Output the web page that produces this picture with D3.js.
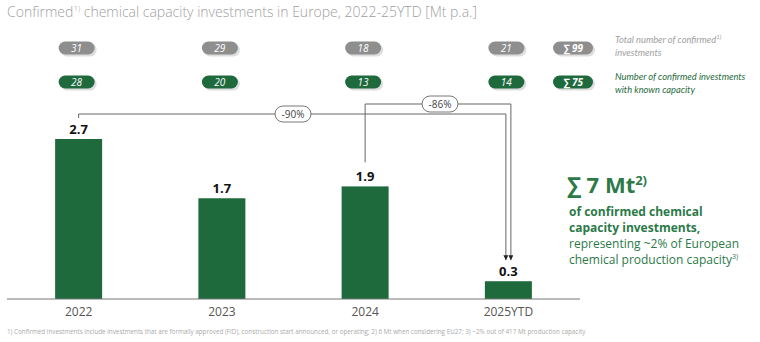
<!DOCTYPE html>
<html>
<head>
<meta charset="utf-8">
<script src="https://cdn.jsdelivr.net/npm/d3@7"></script>
<style>
  body { margin: 0; background: #fff; }
  svg { display: block; font-family: "Open Sans", sans-serif; }
</style>
</head>
<body>
<svg id="chart" width="760" height="342"></svg>
<script>
// data
const categories = ['2022', '2023', '2024', '2025YTD'];
const capacity = [2.7, 1.7, 1.9, 0.3];
const totalInvestments = [31, 29, 18, 21];
const knownCapacity = [28, 20, 13, 14];
const totalSum = 99;
const knownSum = 75;
const changes = [
  { from: '2022', to: '2025YTD', label: '-90%' },
  { from: '2024', to: '2025YTD', label: '-86%' }
];

const green = '#1f6a3d';
const grey = '#8e8e8e';

const svg = d3.select('#chart');
const baseY = 299;

const x = d3.scaleBand().domain(categories).range([7, 580]).padding(0);
const y = d3.scaleLinear().domain([0, 2.7]).range([baseY, 139]);
const barW = 47;
const cx = c => x(c) + x.bandwidth() / 2;

// title
const title = svg.append('text')
  .attr('x', 7).attr('y', 17)
  .attr('fill', '#a0a0a0')
  .attr('font-size', 14).attr('font-weight', 300);
title.append('tspan').text('Confirmed');
title.append('tspan').attr('font-size', 8).attr('dy', -6).text('1)');
title.append('tspan').attr('dy', 6).text(' chemical capacity investments in Europe, 2022-25YTD [Mt p.a.]');

// pill rows
function pill(g, px, py, w, fill, label, bold) {
  g.append('rect')
    .attr('x', px - w / 2 + 2).attr('y', py - 6.5 + 2)
    .attr('width', w).attr('height', 13).attr('rx', 6.5)
    .attr('fill', '#cfcfcf').attr('opacity', 0.7);
  g.append('rect')
    .attr('x', px - w / 2).attr('y', py - 6.5)
    .attr('width', w).attr('height', 13).attr('rx', 6.5)
    .attr('fill', fill);
  g.append('text')
    .attr('x', px).attr('y', py + 3.5)
    .attr('text-anchor', 'middle')
    .attr('fill', '#fff').attr('font-size', 10)
    .attr('font-style', 'italic')
    .attr('font-weight', bold ? 700 : 400)
    .text(label);
}

const pills = svg.append('g');
categories.forEach((c, i) => {
  pill(pills, cx(c) - 2, 48, 36, grey, totalInvestments[i], false);
  pill(pills, cx(c) - 2, 82, 36, green, knownCapacity[i], false);
});
pill(pills, 573, 48, 40, grey, '\u2211 ' + totalSum, true);
pill(pills, 573, 82, 40, green, '\u2211 ' + knownSum, true);

// legend texts
const lg = svg.append('g').attr('font-size', 9.3).attr('font-style', 'italic')
  .attr('font-family', 'Lato, sans-serif');
const l1 = lg.append('text').attr('x', 615).attr('y', 43).attr('fill', '#a0a0a0');
l1.append('tspan').text('Total number of confirmed');
l1.append('tspan').attr('font-size', 6).attr('dy', -4).text('1)');
lg.append('text').attr('x', 615).attr('y', 56).attr('fill', '#a0a0a0').text('investments');
lg.append('text').attr('x', 615).attr('y', 80).attr('fill', green).text('Number of confirmed investments');
lg.append('text').attr('x', 615).attr('y', 93).attr('fill', green).text('with known capacity');

// bars
svg.append('g').selectAll('rect')
  .data(categories)
  .join('rect')
  .attr('x', c => cx(c) - barW / 2)
  .attr('y', (c, i) => y(capacity[i]))
  .attr('width', barW)
  .attr('height', (c, i) => baseY - y(capacity[i]))
  .attr('fill', green);

svg.append('g').selectAll('text')
  .data(categories)
  .join('text')
  .attr('x', c => cx(c))
  .attr('y', (c, i) => y(capacity[i]) - 5)
  .attr('text-anchor', 'middle')
  .attr('font-size', 13).attr('font-weight', 700)
  .attr('fill', '#111')
  .text((c, i) => capacity[i].toFixed(1));

// x axis
const xAxis = svg.append('g')
  .attr('transform', `translate(0,${baseY})`)
  .call(d3.axisBottom(x).tickSize(0).tickPadding(8));
xAxis.select('.domain').attr('stroke', '#777').attr('d', 'M7,0H580');
xAxis.selectAll('text').attr('font-size', 12).attr('fill', '#555')
  .attr('font-family', '"Open Sans", sans-serif');

// change brackets
svg.append('defs').append('marker')
  .attr('id', 'arr').attr('viewBox', '0 0 6 6')
  .attr('refX', 6).attr('refY', 3)
  .attr('markerWidth', 5).attr('markerHeight', 5)
  .attr('markerUnits', 'userSpaceOnUse')
  .attr('orient', 'auto')
  .append('path').attr('d', 'M0,0L6,3L0,6Z').attr('fill', '#222');

const lvl = [114, 104];
const endOff = [-2.5, 2.5];
const labelX = [293, 440];
changes.forEach((ch, k) => {
  const i0 = categories.indexOf(ch.from);
  const i1 = categories.indexOf(ch.to);
  const x0 = cx(ch.from);
  const x1 = cx(ch.to) + endOff[k];
  const y0 = y(capacity[i0]) - (k === 0 ? 21 : 24);
  const y1 = y(capacity[i1]) - 21;
  const ly = lvl[k];
  svg.append('path')
    .attr('d', `M${x0},${y0}V${ly}H${x1}V${y1}`)
    .attr('fill', 'none').attr('stroke', '#666').attr('stroke-width', 1)
    .attr('marker-end', 'url(#arr)');
  svg.append('rect')
    .attr('x', labelX[k] - 18).attr('y', ly - 8)
    .attr('width', 36).attr('height', 16).attr('rx', 8)
    .attr('fill', '#fff').attr('stroke', '#555').attr('stroke-width', 0.8);
  svg.append('text')
    .attr('x', labelX[k]).attr('y', ly + 3.5)
    .attr('text-anchor', 'middle').attr('font-size', 10).attr('fill', '#444')
    .text(ch.label);
});

// right summary
const rs = svg.append('g').attr('fill', '#2c7a48');
const big = rs.append('text').attr('x', 567).attr('y', 193)
  .attr('font-size', 22).attr('font-weight', 700);
big.append('tspan').text('\u2211 7 Mt');
big.append('tspan').attr('font-size', 13).attr('dy', -8).text('2)');
rs.append('text').attr('x', 569).attr('y', 216).attr('font-size', 12).attr('font-weight', 700).text('of confirmed chemical');
rs.append('text').attr('x', 569).attr('y', 232).attr('font-size', 12).attr('font-weight', 700).text('capacity investments,');
rs.append('text').attr('x', 569).attr('y', 248).attr('font-size', 12).text('representing ~2% of European');
const last = rs.append('text').attr('x', 569).attr('y', 264).attr('font-size', 12);
last.append('tspan').text('chemical production capacity');
last.append('tspan').attr('font-size', 7).attr('dy', -5).text('3)');

// footnote
svg.append('text')
  .attr('x', 7).attr('y', 334)
  .attr('font-size', 6.3).attr('fill', '#aaa')
  .text('1) Confirmed investments include investments that are formally approved (FID), construction start announced, or operating; 2) 6 Mt when considering EU27; 3) ~2% out of 417 Mt production capacity');
</script>
</body>
</html>
